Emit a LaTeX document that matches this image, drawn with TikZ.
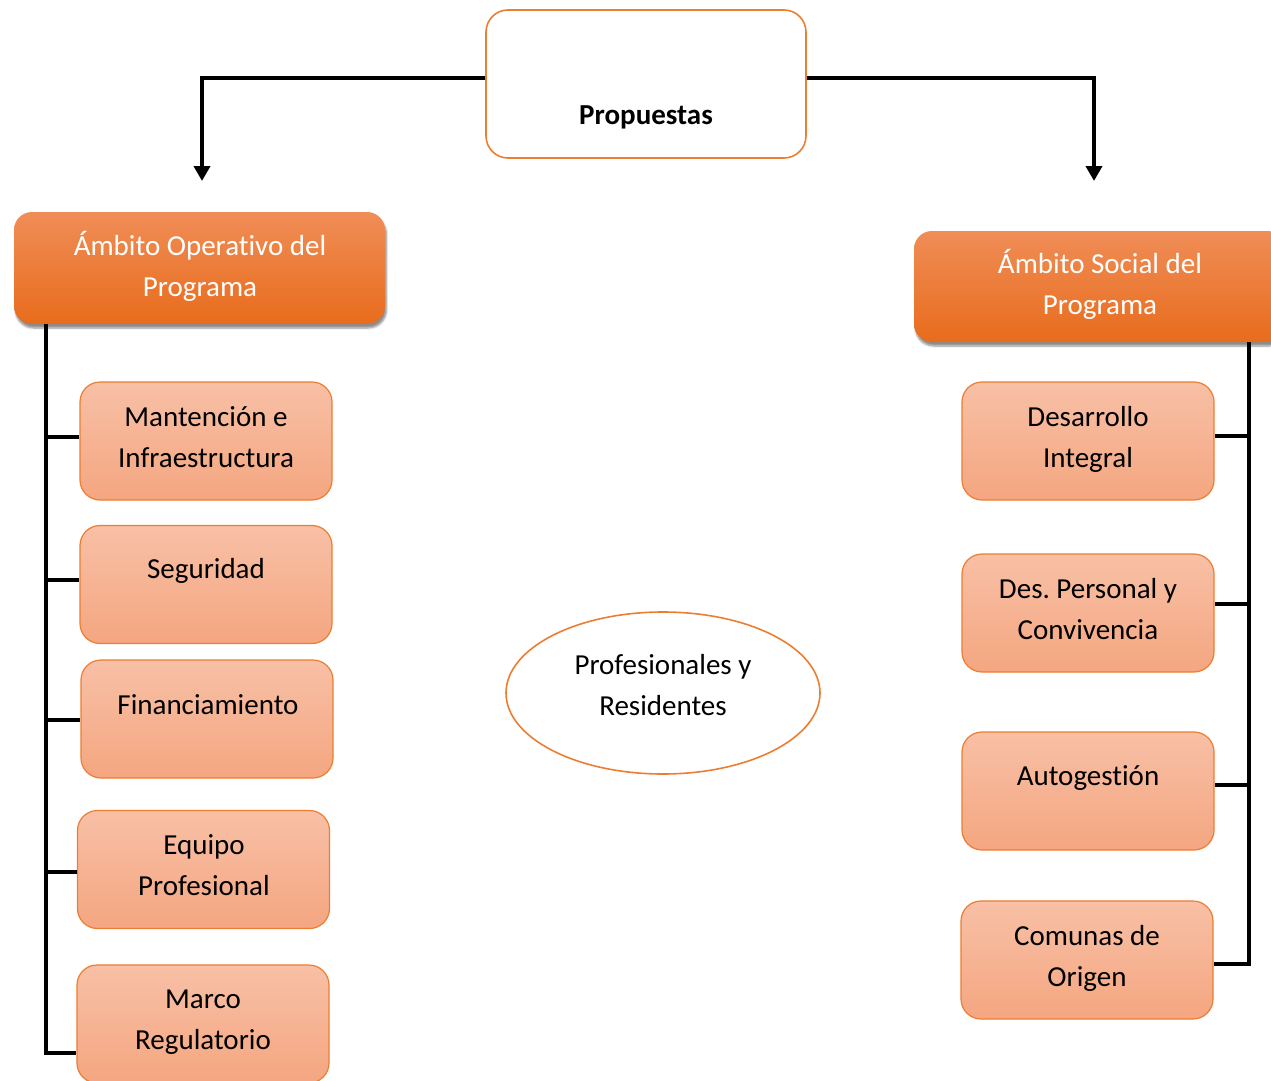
\documentclass[tikz,border=0pt]{standalone}
\usepackage{fontspec}
\setmainfont[Ligatures={CommonOff,ContextualOff}]{Carlito}
\frenchspacing
\usetikzlibrary{shapes.geometric,shadows.blur,arrows.meta}
\definecolor{accent}{HTML}{ED7D31}
\definecolor{subtop}{HTML}{F8C0A6}
\definecolor{subbot}{HTML}{F4A680}
\definecolor{headtop}{HTML}{F08D57}
\definecolor{headbot}{HTML}{E86C1C}
\begin{document}
\begin{tikzpicture}[x=1pt,y=-1pt,
  conn/.style={line width=3.8pt, draw=black, line join=miter},
  arr/.style={conn, -{Triangle[width=16pt,length=15pt]}},
  subbox/.style={draw=accent, line width=1.2pt, rounded corners=20pt,
    top color=subtop, bottom color=subbot,
    minimum width=252pt, minimum height=118pt, inner sep=0pt},
  headbox/.style={rounded corners=18pt, top color=headtop, bottom color=headbot,
    minimum height=112pt, inner sep=0pt,
    blur shadow={shadow xshift=1.5pt, shadow yshift=-4pt, shadow blur steps=6, shadow opacity=45}},
  txt/.style={font=\fontsize{29}{41}\selectfont, align=center, inner sep=0pt, anchor=north},
  htxt/.style={txt, text=white},
]
\useasboundingbox (0,0) rectangle (1271,1081);
\clip (0,0) rectangle (1271,1081);

% top box
\node[draw=accent, line width=1.6pt, rounded corners=22pt, fill=white,
      minimum width=320pt, minimum height=148pt, inner sep=0pt] (top) at (646,84) {};
\node[txt, font=\fontsize{29}{41}\selectfont\bfseries] (toptxt) at (646,95.3) {\strut Propuestas};

% headers
\node[headbox, minimum width=371pt] (lh) at (199.5,268) {};
\node[htxt] (lhtxt) at (200,226.3) {\strut Ámbito Operativo del\\\strut Programa};
\node[headbox, minimum width=372pt, minimum height=111pt] (rh) at (1100,286.5) {};
\node[htxt] (rhtxt) at (1100,244.3) {\strut Ámbito Social del\\\strut Programa};

% arrows
\coordinate (la) at (202,181);
\coordinate (ra) at (1094,181);
\draw[arr] ([yshift=6pt]top.west) -| (la);
\draw[arr] ([yshift=6pt]top.east) -| (ra);

% left boxes
\node[subbox] (m1) at (206,441) {};
\node[txt] (m1t) at (206,397.3) {\strut Mantención e\\\strut Infraestructura};
\node[subbox] (m2) at (206,584.5) {};
\node[txt] (m2t) at (206,549.3) {\strut Seguridad};
\node[subbox] (m3) at (207,719) {};
\node[txt] (m3t) at (208,685.3) {\strut Financiamiento};
\node[subbox] (m4) at (203.5,869.5) {};
\node[txt] (m4t) at (204,825.3) {\strut Equipo\\\strut Profesional};
\node[subbox] (m5) at (203,1024) {};
\node[txt] (m5t) at (203,979.3) {\strut Marco\\\strut Regulatorio};

% right boxes
\node[subbox] (d1) at (1088,441) {};
\node[txt] (d1t) at (1088,397.3) {\strut Desarrollo\\\strut Integral};
\node[subbox] (d2) at (1088,613) {};
\node[txt] (d2t) at (1088,569.3) {\strut Des. Personal y\\\strut Convivencia};
\node[subbox] (d3) at (1088,791) {};
\node[txt] (d3t) at (1088,756.3) {\strut Autogestión};
\node[subbox] (d4) at (1087,960) {};
\node[txt] (d4t) at (1087,916.3) {\strut Comunas de\\\strut Origen};

% ellipse
\node[ellipse, draw=accent, line width=1.6pt, fill=white,
      minimum width=314pt, minimum height=162pt, inner sep=0pt] (pr) at (663,693) {};
\node[txt] (prt) at (663,645.3) {\strut Profesionales y\\\strut Residentes};

% left tree
\coordinate (ltop) at (46,324);
\draw[conn] (ltop) |- ([yshift=4pt]m1.west);
\draw[conn] (ltop) |- ([yshift=4.5pt]m2.west);
\draw[conn] (ltop) |- ([yshift=-1pt]m3.west);
\draw[conn] (ltop) |- ([yshift=-2.5pt]m4.west);
\draw[conn] (ltop) |- ([yshift=-29pt]m5.west);

% right tree
\coordinate (rtop) at (1249,342);
\draw[conn] (rtop) |- ([yshift=5pt]d1.east);
\draw[conn] (rtop) |- ([yshift=9pt]d2.east);
\draw[conn] (rtop) |- ([yshift=6pt]d3.east);
\draw[conn] (rtop) |- ([yshift=-4pt]d4.east);
\end{tikzpicture}
\end{document}
